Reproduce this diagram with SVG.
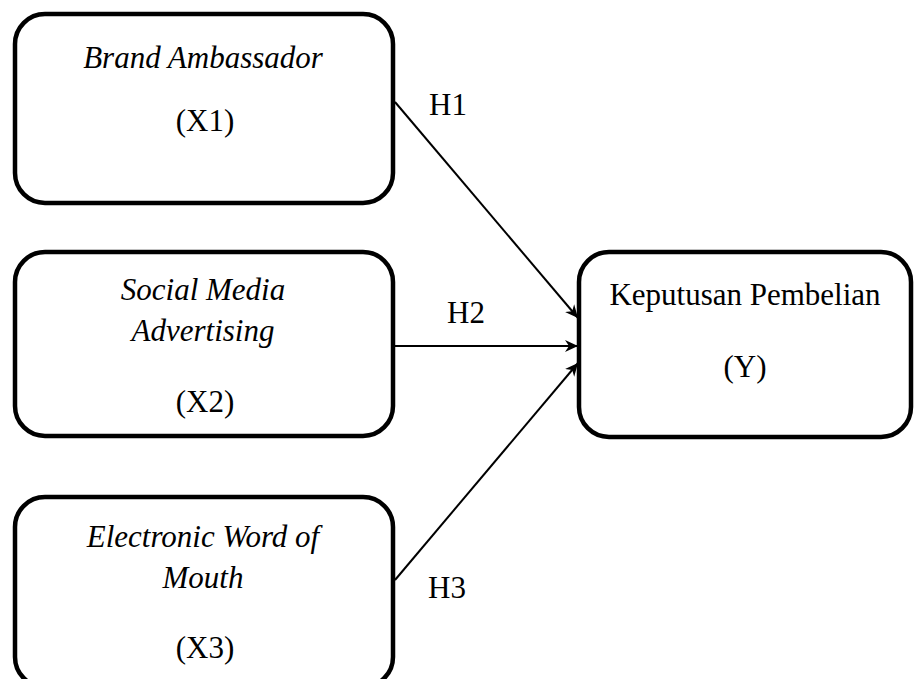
<svg xmlns="http://www.w3.org/2000/svg" width="915" height="679" viewBox="0 0 915 679">
<defs>
<style>
.box{fill:#fff;stroke:#000;stroke-width:4.5}
.t{font-family:"Liberation Serif","Times New Roman",serif;font-size:31px;fill:#000;text-anchor:middle}
.i{font-style:italic}
.lbl{font-family:"Liberation Serif","Times New Roman",serif;font-size:31px;fill:#000}
.conn{stroke:#000;stroke-width:2;fill:none;marker-end:url(#arr)}
</style>
<marker id="arr" markerUnits="userSpaceOnUse" markerWidth="14" markerHeight="14" refX="13" refY="7" orient="auto">
<path d="M0,1 L13,7 L0,13 L4,7 z" fill="#000"/>
</marker>
</defs>
<rect width="915" height="679" fill="#fff"/>
<g id="x1">
<rect class="box" x="15" y="14" width="378" height="189" rx="30"/>
<text class="t i" x="203" y="68">Brand Ambassador</text>
<text class="t" x="205" y="131">(X1)</text>
</g>
<g id="x2">
<rect class="box" x="15" y="252" width="378" height="184" rx="30"/>
<text class="t i" x="203" y="300">Social Media</text>
<text class="t i" x="203" y="341">Advertising</text>
<text class="t" x="205" y="412">(X2)</text>
</g>
<g id="x3">
<rect class="box" x="15" y="497" width="378" height="190" rx="30"/>
<text class="t i" x="203" y="547">Electronic Word of</text>
<text class="t i" x="203" y="588">Mouth</text>
<text class="t" x="205" y="658">(X3)</text>
</g>
<g id="y">
<rect class="box" x="579" y="252" width="332" height="185" rx="30"/>
<text class="t" x="745" y="305">Keputusan Pembelian</text>
<text class="t" x="745" y="377">(Y)</text>
</g>
<g id="connectors">
<line class="conn" x1="395" y1="102" x2="578" y2="318"/>
<line class="conn" x1="395" y1="346" x2="578" y2="346"/>
<line class="conn" x1="395" y1="580" x2="578" y2="363"/>
<text class="lbl" x="429" y="115">H1</text>
<text class="lbl" x="447" y="323">H2</text>
<text class="lbl" x="428" y="598">H3</text>
</g>
</svg>
